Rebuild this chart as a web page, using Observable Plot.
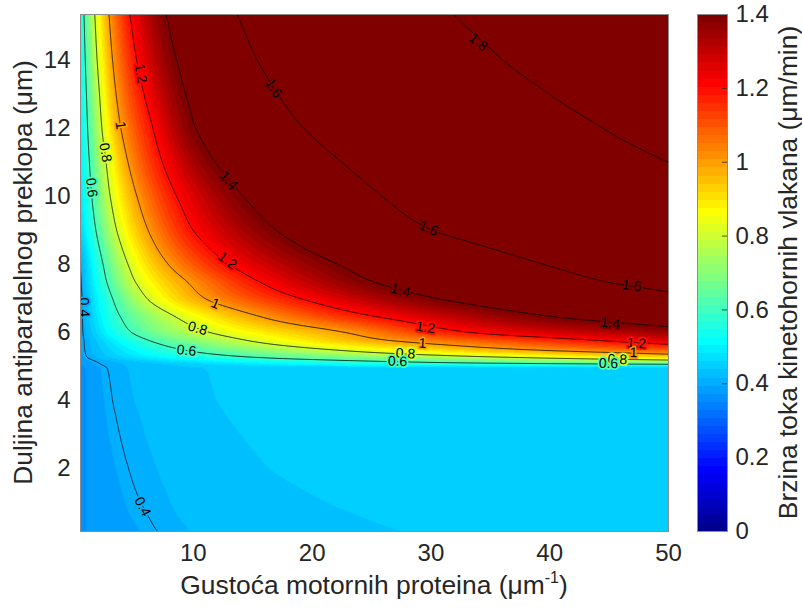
<!DOCTYPE html>
<html><head><meta charset="utf-8">
<script src="https://cdn.jsdelivr.net/npm/d3@7"></script>
<script src="https://cdn.jsdelivr.net/npm/@observablehq/plot@0.6"></script>
<style>
html,body{margin:0;padding:0;background:#fff;}
#chart{position:relative;width:802px;height:608px;overflow:hidden;font-family:"Liberation Sans",Arial,Helvetica,sans-serif;}
#chart svg{position:absolute;top:0;}
</style></head><body><div id="chart"></div>
<script>
// ---- data ----
// For each overlap length (rowY, µm) the speed (µm/min) at a few motor densities (µm^-1):
// pairs [density, speed], mostly where the contour lines / colour steps cross that row.
const rowY = [0.15, 0.6, 1, 1.5, 2, 2.5, 3, 3.5, 4, 4.5, 4.95, 5.05, 5.15, 5.3, 5.5, 5.75, 6, 6.5, 7, 7.5, 8, 9, 10, 11, 12, 13, 14, 15.35];
const rowPoints = [
  [[0.5,0.3700],[1,0.372],[5.6,0.394],[7.0,0.400],[9.8,0.416],[27.5,0.4375],[37.5,0.4420],[50,0.4460]],
  [[0.5,0.3695],[1,0.372],[4.8,0.394],[6.2,0.400],[8.8,0.416],[24.0,0.4375],[34.0,0.4425],[50,0.4470]],
  [[0.5,0.3690],[1,0.372],[4.3,0.394],[5.6,0.400],[8.2,0.416],[21.3,0.4375],[31.3,0.4430],[50,0.4480]],
  [[0.5,0.3685],[1,0.372],[3.9,0.394],[5.0,0.400],[7.6,0.416],[18.6,0.4375],[28.6,0.4430],[50,0.4485]],
  [[0.5,0.3680],[1,0.372],[3.5,0.394],[4.55,0.400],[7.0,0.416],[16.4,0.4375],[26.4,0.4430],[50,0.4490]],
  [[0.5,0.3670],[1,0.372],[3.2,0.394],[4.15,0.400],[6.5,0.416],[15.1,0.4375],[25.1,0.4430],[50,0.4495]],
  [[0.5,0.3660],[1,0.372],[2.9,0.394],[3.8,0.400],[6.0,0.416],[14.0,0.4375],[24.0,0.4430],[50,0.4500]],
  [[0.5,0.3655],[1,0.372],[2.7,0.394],[3.5,0.400],[5.6,0.416],[12.9,0.4375],[22.9,0.4435],[50,0.4505]],
  [[0.5,0.3650],[1,0.372],[2.5,0.394],[3.2,0.400],[5.1,0.416],[12.0,0.4375],[22.0,0.4435],[50,0.4510]],
  [[0.5,0.3640],[1,0.372],[2.35,0.394],[3.0,0.400],[4.8,0.416],[11.5,0.4375],[21.5,0.4440],[50,0.4515]],
  [[0.5,0.3630],[1,0.372],[2.2,0.394],[2.75,0.400],[4.5,0.416],[10.9,0.4375],[20.9,0.4440],[50,0.4520]],
  [[0.5,0.375],[2.3,0.400],[10,0.448],[20,0.500],[30,0.535],[50,0.575]],
  [[0.5,0.380],[1.8,0.400],[26,0.600],[50,0.740]],
  [[0.5,0.385],[1.0,0.400],[13.8,0.600],[33.4,0.800],[50,0.941]],
  [[0.5,0.390],[0.85,0.400],[9.0,0.600],[21.4,0.800],[37.8,1.000],[50,1.103]],
  [[0.5,0.390],[0.8,0.400],[6.4,0.600],[14.8,0.800],[27,1.000],[44.9,1.200],[50,1.250]],
  [[0.5,0.390],[4.8,0.600],[11.4,0.800],[22.8,1.000],[33.4,1.200],[50,1.350]],
  [[0.5,0.390],[3.8,0.600],[8.3,0.800],[15.3,1.000],[24.9,1.200],[39.5,1.400],[50,1.480]],
  [[0.5,0.390],[3.2,0.600],[6.1,0.800],[11,1.000],[19.0,1.200],[30.5,1.400],[50,1.575]],
  [[0.5,0.395],[2.7,0.600],[5.1,0.800],[9.45,1.000],[15.5,1.200],[25.1,1.400],[44.6,1.600],[50,1.630]],
  [[0.5,0.400],[2.4,0.600],[4.5,0.800],[7.9,1.000],[13.0,1.200],[22.2,1.400],[39.5,1.600],[50,1.655]],
  [[0.5,0.450],[1.8,0.600],[3.55,0.800],[6.2,1.000],[10.0,1.200],[17.0,1.400],[30.2,1.600],[50,1.710]],
  [[0.5,0.477],[1.45,0.600],[3.0,0.800],[5.25,1.000],[8.6,1.200],[14.2,1.400],[25.9,1.600],[38,1.700],[50,1.755]],
  [[0.5,0.490],[1.25,0.600],[2.65,0.800],[4.5,1.000],[7.4,1.200],[11.85,1.400],[22.5,1.600],[35,1.705],[50,1.800]],
  [[0.5,0.500],[1.1,0.600],[2.3,0.800],[3.9,1.000],[6.6,1.200],[10.2,1.400],[19.3,1.600],[44.5,1.800],[50,1.835]],
  [[0.5,0.510],[1.0,0.600],[2.1,0.800],[3.5,1.000],[5.85,1.200],[9.37,1.400],[17.1,1.600],[40,1.800],[50,1.860]],
  [[0.5,0.520],[0.9,0.600],[1.9,0.800],[3.2,1.000],[5.23,1.200],[8.6,1.400],[15.4,1.600],[36.1,1.800],[50,1.880]],
  [[0.5,0.530],[0.8,0.600],[1.7,0.800],[2.9,1.000],[4.66,1.200],[7.7,1.400],[13.7,1.600],[31.9,1.800],[50,1.900]]
];
const contourLevels = [0.4, 0.6, 0.8, 1, 1.2, 1.4, 1.6, 1.8];
const xTicks = [10, 20, 30, 40, 50];
const yTicks = [2, 4, 6, 8, 10, 12, 14];
const colorTicks = [0, 0.2, 0.4, 0.6, 0.8, 1, 1.2, 1.4];
const labelText  = ["1.8","1.6","1.6","1.6","1.4","1.4","1.4","1.2","1.2","1.2","1.2","1","1","1","1","0.8","0.8","0.8","0.8","0.6","0.6","0.6","0.6","0.4","0.4"];
const labelX     = [34.0,16.75,29.8,46.9,12.96,27.44,45.1,5.55,12.87,29.54,47.3,3.87,11.86,29.29,47.05,2.6,10.35,27.86,45.7,1.43,9.42,27.19,44.95,0.8,5.72];
const labelY     = [14.53,13.18,9.06,7.38,10.47,7.24,6.27,13.62,8.12,6.15,5.68,12.09,6.85,5.68,5.41,11.29,6.12,5.38,5.21,10.26,5.47,5.15,5.09,6.74,0.88];
const labelAngle = [40,57,24,8,48,13,7,80,37,8,4,81,23,4,2,80,16,3,2,83,6,2,1,88,63];

// ---- smooth (monotone cubic) interpolation of the rows ----
function pchipSlope(h0, h1, d0, d1) {
  if (d0 * d1 <= 0) return 0;
  const w1 = 2 * h1 + h0, w2 = h1 + 2 * h0;
  return (w1 + w2) / (w1 / d0 + w2 / d1);
}
function slopesOf(xs, vs) {
  const n = xs.length, m = new Array(n), h = [], d = [];
  for (let i = 0; i < n - 1; i++) { h[i] = xs[i + 1] - xs[i]; d[i] = (vs[i + 1] - vs[i]) / h[i]; }
  for (let i = 1; i < n - 1; i++) m[i] = pchipSlope(h[i - 1], h[i], d[i - 1], d[i]);
  m[0] = d[0]; m[n - 1] = d[n - 2];
  return m;
}
function hermite(x0, x1, v0, v1, m0, m1, x) {
  const h = x1 - x0, t = (x - x0) / h, t2 = t * t, t3 = t2 * t;
  return (2 * t3 - 3 * t2 + 1) * v0 + (t3 - 2 * t2 + t) * h * m0 + (-2 * t3 + 3 * t2) * v1 + (t3 - t2) * h * m1;
}
const rows = rowPoints.map(pts => {
  const xs = pts.map(p => p[0]), vs = pts.map(p => p[1]);
  return {xs, vs, ms: slopesOf(xs, vs)};
});
function rowValue(r, x) {
  const R = rows[r], n = R.xs.length;
  const i = Math.max(0, Math.min(n - 2, d3.bisectRight(R.xs, x) - 1));
  return hermite(R.xs[i], R.xs[i + 1], R.vs[i], R.vs[i + 1], R.ms[i], R.ms[i + 1], x);
}
function valueAt(x, y) {
  const ny = rowY.length;
  x = Math.max(0.5, Math.min(50, x));
  y = Math.max(rowY[0], Math.min(rowY[ny - 1], y));
  const j = Math.max(0, Math.min(ny - 2, d3.bisectRight(rowY, y) - 1));
  const v = {};
  for (let r = Math.max(0, j - 1); r <= Math.min(ny - 1, j + 2); r++) v[r] = rowValue(r, x);
  const slopeAt = r => {
    if (r === 0) return (v[1] - v[0]) / (rowY[1] - rowY[0]);
    if (r === ny - 1) return (v[r] - v[r - 1]) / (rowY[r] - rowY[r - 1]);
    const h0 = rowY[r] - rowY[r - 1], h1 = rowY[r + 1] - rowY[r];
    return pchipSlope(h0, h1, (v[r] - v[r - 1]) / h0, (v[r + 1] - v[r]) / h1);
  };
  return hermite(rowY[j], rowY[j + 1], v[j], v[j + 1], slopeAt(j), slopeAt(j + 1), y);
}
function jet64(t) {
  let k = Math.max(0, Math.min(63, Math.floor(t * 64)));
  let r = 0, g = 0, b = 0;
  if (k < 8) b = 0.5625 + 0.0625 * k;
  else if (k < 24) { g = 0.0625 * (k - 7); b = 1; }
  else if (k < 40) { r = 0.0625 * (k - 23); g = 1; b = 1 - 0.0625 * (k - 23); }
  else if (k < 56) { r = 1; g = 1 - 0.0625 * (k - 39); }
  else r = 1 - 0.0625 * (k - 55);
  return `rgb(${Math.round(r * 255)},${Math.round(g * 255)},${Math.round(b * 255)})`;
}
const colorOpts = {type: "linear", domain: [0, 1.4], clamp: true, interpolate: jet64};
const FONT = "Liberation Sans, Arial, Helvetica, sans-serif";
const TXT = "#262626";

const labels = labelText.map((t, i) => ({t, x: labelX[i], y: labelY[i], a: labelAngle[i]}));

const main = Plot.plot({
  width: 700, height: 608,
  marginLeft: 80, marginRight: 32, marginTop: 14, marginBottom: 77,
  style: {fontFamily: FONT, fontSize: "24px", color: TXT, background: "transparent", overflow: "visible"},
  x: {domain: [0.5, 50], ticks: xTicks, tickSize: 0, tickPadding: 12, label: null},
  y: {domain: [0.15, 15.35], ticks: yTicks, tickSize: 0, tickPadding: 10, label: null},
  color: colorOpts,
  marks: [
    Plot.raster({x1: 0.5, x2: 50, y1: 0.15, y2: 15.35, fill: valueAt, pixelSize: 1}),
    Plot.contour({x1: -0.6, x2: 51.2, y1: -0.4, y2: 15.9, value: valueAt, thresholds: contourLevels,
      fill: "none", stroke: "black", strokeWidth: 0.75, pixelSize: 1, clip: true}),
    Plot.text(labels, {x: "x", y: "y", text: "t", rotate: "a", fill: "black",
      stroke: d => valueAt(d.x, d.y), strokeWidth: 3.5, paintOrder: "stroke",
      fontSize: 14, fontFamily: FONT, clip: true}),
    Plot.frame({stroke: "#8c8c8c", strokeWidth: 1})
  ]
});
main.style.left = "0px";

const sm = d3.select(main);
const xl = sm.append("text").attr("x", 374).attr("y", 594).attr("text-anchor", "middle")
  .attr("font-size", 26.4).attr("fill", TXT).attr("font-family", FONT);
xl.append("tspan").text("Gustoća motornih proteina (μm");
xl.append("tspan").attr("dy", -11).attr("font-size", 16).text("-1");
xl.append("tspan").attr("dy", 11).text(")");
sm.append("text").attr("transform", "translate(32,272.5) rotate(-90)").attr("text-anchor", "middle")
  .attr("font-size", 26.4).attr("fill", TXT).attr("font-family", FONT)
  .text("Duljina antiparalelnog preklopa (μm)");

const bandIdx = d3.range(64);
const cbar = Plot.plot({
  width: 112, height: 608,
  marginLeft: 7, marginRight: 75, marginTop: 14, marginBottom: 77,
  style: {fontFamily: FONT, fontSize: "24px", color: TXT, background: "transparent", overflow: "visible"},
  x: {domain: [0, 1], axis: null},
  y: {domain: [0, 1.4], ticks: colorTicks, tickFormat: d => String(+d.toFixed(1)), tickSize: 0, tickPadding: 8, axis: "right", label: null},
  color: colorOpts,
  marks: [
    Plot.rect(bandIdx, {x1: 0, x2: 1, y1: k => k * 1.4 / 64, y2: k => (k + 1) * 1.4 / 64,
      fill: k => (k + 0.5) * 1.4 / 64, shapeRendering: "crispEdges"}),
    Plot.ruleY(colorTicks, {x1: 0.83, x2: 1, stroke: TXT, strokeWidth: 0.8}),
    Plot.frame({stroke: "#8c8c8c", strokeWidth: 1})
  ]
});
cbar.style.left = "690px";
d3.select(cbar).append("text").attr("transform", "translate(107,272.5) rotate(-90)").attr("text-anchor", "middle")
  .attr("font-size", 26.4).attr("fill", TXT).attr("font-family", FONT)
  .text("Brzina toka kinetohornih vlakana (μm/min)");

const host = document.getElementById("chart");
host.appendChild(main);
host.appendChild(cbar);
</script>
</body></html>
